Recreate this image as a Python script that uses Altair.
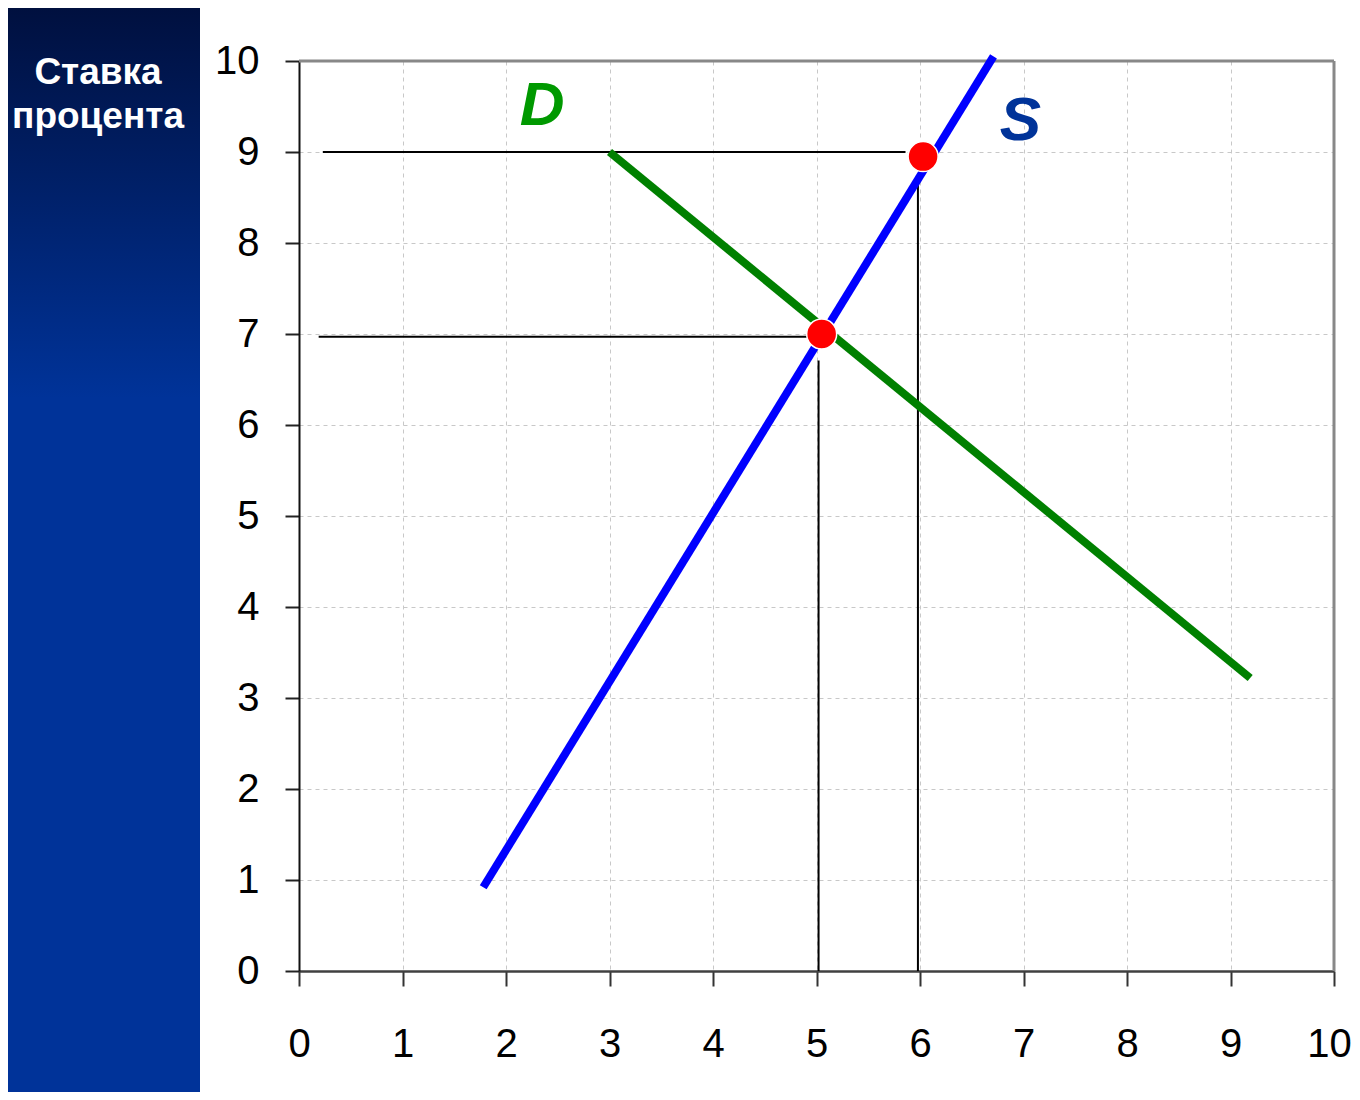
import altair as alt
import pandas as pd

# ---- data ----
supply_x = [1.78, 6.71]
supply_y = [0.92, 10.05]
demand_x = [3.0, 9.19]
demand_y = [9.0, 3.22]

points_x = [5.05, 6.03]
points_y = [7.0, 8.95]

# guide lines (horizontal: y, x-from, x-to ; vertical: x, y-from, y-to)
hguide_y = [9.0, 6.97]
hguide_x0 = [0.23, 0.19]
hguide_x1 = [5.86, 4.99]
vguide_x = [5.02, 5.98]
vguide_y0 = [0.0, 0.0]
vguide_y1 = [6.71, 8.75]

label_text = ["D", "S"]
label_x = [2.35, 6.97]
label_y = [9.30, 9.13]
label_colors = ["#009900", "#003399"]

tick_values = list(range(0, 11))
title_lines = ["Ставка", "процента"]

FONT = "Liberation Sans"
W, H = 1035, 910
PAD_L, PAD_T, PAD_R, PAD_B = 291, 53, 18, 121

xs = alt.Scale(domain=[0, 10], nice=False, zero=False)
ys = alt.Scale(domain=[0, 10], nice=False, zero=False)

x_axis = alt.Axis(values=tick_values, format="d", title=None, labelFont=FONT, labelFontSize=40,
                  labelColor="black", tickSize=15, tickColor="#333333", tickWidth=2,
                  domainColor="#404040", domainWidth=2.5, labelPadding=38,
                  labelOffset={"condition": {"test": "datum.value == 10", "value": -5}, "value": 0},
                  grid=True, gridColor="#c8c8c8", gridDash=[4, 4], gridWidth=1,
                  labelFlush=False, labelOverlap=False)
y_axis = alt.Axis(values=tick_values, format="d", title=None, labelFont=FONT, labelFontSize=40,
                  labelColor="black", tickSize=14, tickColor="#222222", tickWidth=2,
                  domainColor="#111111", domainWidth=2, labelPadding=26,
                  grid=True, gridColor="#c8c8c8", gridDash=[4, 4], gridWidth=1,
                  labelFlush=False, labelOverlap=False)

one = pd.DataFrame({"k": [0]})

# left decorative panel with gradient
panel = alt.Chart(one).mark_rect(
    fill=alt.Gradient(gradient="linear", x1=0, x2=0, y1=0, y2=1,
                      stops=[alt.GradientStop(color="#00103f", offset=0),
                             alt.GradientStop(color="#003399", offset=0.36),
                             alt.GradientStop(color="#003399", offset=1)]),
    stroke=None
).encode(x=alt.value(-PAD_L), x2=alt.value(-99), y=alt.value(-PAD_T), y2=alt.value(H + PAD_B))

title = alt.Chart(pd.DataFrame({"t": [title_lines]})).mark_text(
    font=FONT, fontSize=37, fontWeight="bold", color="white", align="center",
    baseline="alphabetic", lineHeight=44
).encode(x=alt.value(98 - 8 - PAD_L), y=alt.value(84 - 8 - PAD_T), text="t:N")

# gridlines/axes carrier
base_axes = alt.Chart(pd.DataFrame({"x": [0, 10], "y": [0, 10]})).mark_point(opacity=0).encode(
    x=alt.X("x:Q", scale=xs, axis=x_axis),
    y=alt.Y("y:Q", scale=ys, axis=y_axis),
)

# plot border (top and right)
border_df = pd.DataFrame({"x": [0, 10], "x2": [10, 10], "y": [10, 0], "y2": [10, 10]})
border = alt.Chart(border_df).mark_rule(color="#888888", strokeWidth=3).encode(
    x=alt.X("x:Q", scale=xs), x2="x2:Q", y=alt.Y("y:Q", scale=ys), y2="y2:Q"
)

hdf = pd.DataFrame({"y": hguide_y, "x0": hguide_x0, "x1": hguide_x1})
hguides = alt.Chart(hdf).mark_rule(color="black", strokeWidth=2).encode(
    x=alt.X("x0:Q", scale=xs), x2="x1:Q", y=alt.Y("y:Q", scale=ys)
)
vdf = pd.DataFrame({"x": vguide_x, "y0": vguide_y0, "y1": vguide_y1})
vguides = alt.Chart(vdf).mark_rule(color="black", strokeWidth=2).encode(
    x=alt.X("x:Q", scale=xs), y=alt.Y("y0:Q", scale=ys), y2="y1:Q"
)

demand = alt.Chart(pd.DataFrame({"x": demand_x, "y": demand_y})).mark_line(
    color="#008000", strokeWidth=8, strokeCap="butt").encode(
    x=alt.X("x:Q", scale=xs), y=alt.Y("y:Q", scale=ys))
supply = alt.Chart(pd.DataFrame({"x": supply_x, "y": supply_y})).mark_line(
    color="#0000ff", strokeWidth=8, strokeCap="butt").encode(
    x=alt.X("x:Q", scale=xs), y=alt.Y("y:Q", scale=ys))

pts = alt.Chart(pd.DataFrame({"x": points_x, "y": points_y})).mark_point(
    filled=True, fill="#ff0000", stroke="white", strokeWidth=1.5, size=900, opacity=1,
    fillOpacity=1, shape="circle").encode(
    x=alt.X("x:Q", scale=xs), y=alt.Y("y:Q", scale=ys))

labels = alt.Chart(pd.DataFrame({"t": label_text, "x": label_x, "y": label_y, "c": label_colors})).mark_text(
    font=FONT, fontSize=62, fontWeight="bold", fontStyle="italic", align="center",
    baseline="alphabetic").encode(
    x=alt.X("x:Q", scale=xs), y=alt.Y("y:Q", scale=ys), text="t:N",
    color=alt.Color("c:N", scale=None))

chart = alt.layer(panel, title, base_axes, border, hguides, vguides, demand, supply, pts, labels).properties(
    width=W, height=H,
    autosize=alt.AutoSizeParams(type="none"),
    padding={"left": PAD_L, "top": PAD_T, "right": PAD_R, "bottom": PAD_B},
    background="white",
).configure_view(stroke=None)

chart.save("out.html", embed_options={"renderer": "svg", "actions": False})
